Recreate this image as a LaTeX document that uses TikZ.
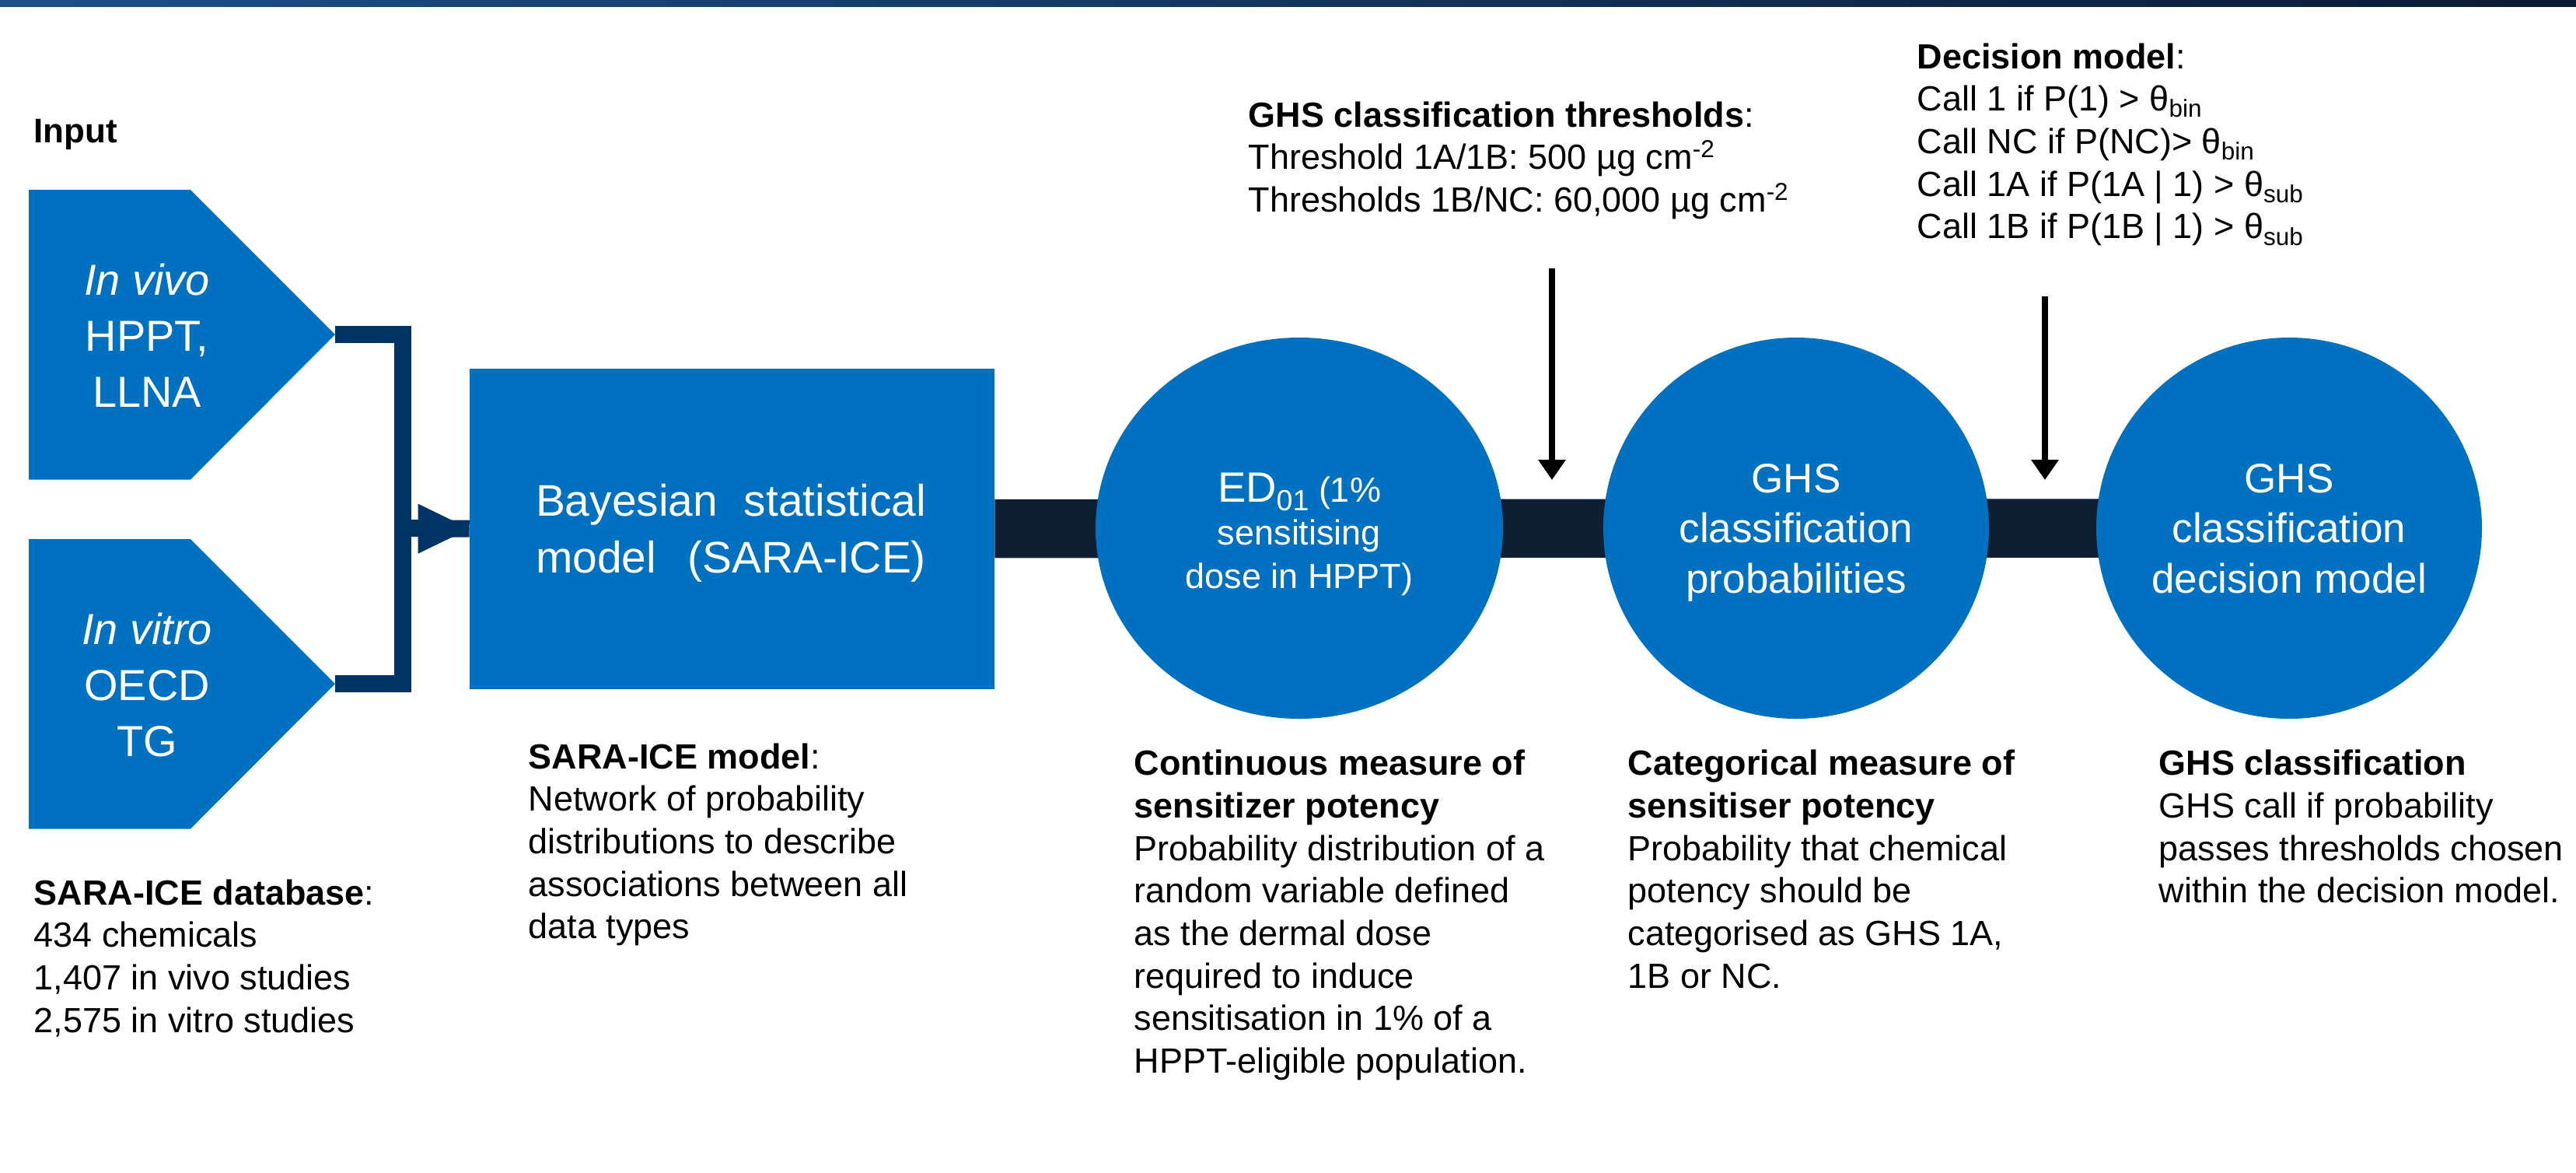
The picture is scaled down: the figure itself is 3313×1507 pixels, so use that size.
\documentclass[tikz,border=0pt]{standalone}
\usepackage{fontspec}
\setmainfont{Liberation Sans}
\usetikzlibrary{shapes.geometric,arrows.meta,calc}

\definecolor{boxblue}{RGB}{0,112,192}
\definecolor{linknavy}{RGB}{0,51,102}
\definecolor{bandnavy}{RGB}{14,30,51}
\definecolor{barleft}{RGB}{27,79,138}
\definecolor{barright}{RGB}{10,27,51}

\pgfdeclarelayer{background}
\pgfsetlayers{background,main}

% stacked lines, first baseline is the box baseline
\newcommand\colL[1]{\vtop{\halign{##\hfil\cr#1\crcr}}}
\newcommand\colC[1]{\vtop{\halign{\hfil##\hfil\cr#1\crcr}}}
\newcommand\bodyfont{\fontsize{12.8pt}{15.56pt}\selectfont}

\tikzset{
  txt/.style={inner sep=0pt, anchor=base west, font=\bodyfont},
  ctxt/.style={inner sep=0pt, anchor=base, text=white},
  blob/.style={ellipse, fill=boxblue, minimum width=52.4mm, minimum height=49mm, inner sep=0pt},
  feed/.style={line width=0.85mm, -{Triangle[length=2.6mm,width=3.4mm]}},
}

\begin{document}
\begin{tikzpicture}[x=0.1mm, y=-0.1mm]
\useasboundingbox (0,0) rectangle (3313,1507);

% header strip
\shade[left color=barleft, right color=barright] (0,0) rectangle (3313,8);

% input pentagons
\fill[boxblue] (37,244) -- (245,244) -- (431,430) -- (245,616.5) -- (37,616.5) -- cycle;
\fill[boxblue] (37,693) -- (245,693) -- (431,879) -- (245,1065.5) -- (37,1065.5) -- cycle;
\coordinate (vivotip) at (431,430);
\coordinate (vitrotip) at (431,879);
\coordinate (join) at (518,679);

% model box and the three stages
\node[rectangle, fill=boxblue, minimum width=67.43mm, minimum height=41.2mm,
      inner sep=0pt, anchor=north west] (model) at (603.7,473) {};
\node[blob] (ed) at (1671,679) {};
\node[blob, minimum width=49.6mm] (cls) at (2310,679) {};
\node[blob, minimum width=49.6mm] (dec) at (2944,679) {};

\begin{pgfonlayer}{background}
  \draw[bandnavy, line width=7.55mm] (model.east) -- (dec.center);
\end{pgfonlayer}

% bracket joining the inputs
\draw[linknavy, line width=2.15mm] (vivotip) -- (vivotip -| join) -- (vitrotip -| join) -- (vitrotip);
\draw[linknavy, line width=2.2mm] (join) -- (model.west);
\fill[linknavy] ($(model.west)+(-66,-32)$) -- (model.west) -- ($(model.west)+(-66,32)$) -- cycle;

% incoming arrows
\coordinate (thrtop) at (1996,345);
\coordinate (thrend) at (1996,617);
\coordinate (ruletop) at (2630,381);
\coordinate (ruleend) at (2630,617);
\draw[feed] (thrtop) -- (thrend);
\draw[feed] (ruletop) -- (ruleend);

% texts inside shapes
\node[ctxt, font=\fontsize{15.9pt}{20.6pt}\selectfont] (vivotxt) at (189,379)
  {\colC{\textit{In vivo}\cr HPPT,\cr LLNA}};
\node[ctxt, font=\fontsize{15.9pt}{20.6pt}\selectfont] (vitrotxt) at (189,828)
  {\colC{\textit{In vitro}\cr OECD\cr TG}};
\node[ctxt, font=\fontsize{16.2pt}{20.9pt}\selectfont] (modeltxt) at (940,663.5)
  {\colC{\makebox[50.2mm][s]{Bayesian statistical}\cr\makebox[50.2mm][s]{model (SARA-ICE)}}};
\node[ctxt, font=\fontsize{12.8pt}{15.9pt}\selectfont] (edtxt) at (1671,645)
  {\colC{{\fontsize{15.5pt}{15.9pt}\selectfont ED}\raisebox{-3.4pt}{\fontsize{10.7pt}{12pt}\selectfont 01} (1\%\cr sensitising\cr dose in HPPT)}};
\node[ctxt, font=\fontsize{15.1pt}{18.35pt}\selectfont] (clstxt) at (2310,633)
  {\colC{GHS\cr classification\cr probabilities}};
\node[ctxt, font=\fontsize{15.1pt}{18.35pt}\selectfont] (dectxt) at (2944,633)
  {\colC{GHS\cr classification\cr decision model}};

% labels
\node[txt, font=\bfseries\fontsize{12.5pt}{15pt}\selectfont] (inputlbl) at (43,183.5) {Input};
\node[txt] (thrnote) at (1605,163)
  {\colL{\textbf{GHS classification thresholds}:\cr
   Threshold 1A/1B: 500 µg cm\textsuperscript{-2}\cr
   Thresholds 1B/NC: 60,000 µg cm\textsuperscript{-2}}};
\node[txt] (rulenote) at (2465,88)
  {\colL{\textbf{Decision model}:\cr
   Call 1 if P(1) > θ\textsubscript{bin}\cr
   Call NC if P(NC)> θ\textsubscript{bin}\cr
   Call 1A if P(1A | 1) > θ\textsubscript{sub}\cr
   Call 1B if P(1B | 1) > θ\textsubscript{sub}}};
\node[txt] (dbnote) at (43,1163)
  {\colL{\textbf{SARA-ICE database}:\cr 434 chemicals\cr 1,407 in vivo studies\cr 2,575 in vitro studies}};
\node[txt] (modelnote) at (679,988)
  {\colL{\textbf{SARA-ICE model}:\cr Network of probability\cr distributions to describe\cr associations between all\cr data types}};
\node[txt] (ednote) at (1458,996.7)
  {\colL{\textbf{Continuous measure of}\cr \textbf{sensitizer potency}\cr Probability distribution of a\cr
   random variable defined\cr as the dermal dose\cr required to induce\cr sensitisation in 1\% of a\cr HPPT-eligible population.}};
\node[txt] (clsnote) at (2093,996.7)
  {\colL{\textbf{Categorical measure of}\cr \textbf{sensitiser potency}\cr Probability that chemical\cr
   potency should be\cr categorised as GHS 1A,\cr 1B or NC.}};
\node[txt] (decnote) at (2776,996.7)
  {\colL{\textbf{GHS classification}\cr GHS call if probability\cr passes thresholds chosen\cr within the decision model.}};
\end{tikzpicture}
\end{document}
